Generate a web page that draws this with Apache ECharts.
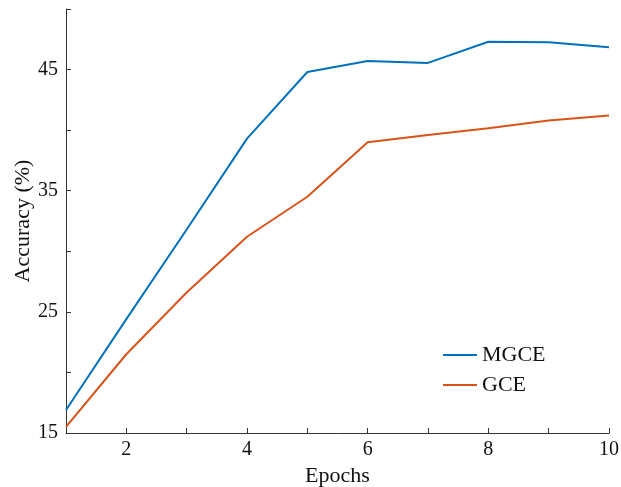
<!DOCTYPE html>
<html>
<head>
<meta charset="utf-8">
<script src="https://cdn.jsdelivr.net/npm/echarts@6/dist/echarts.min.js"></script>
<style>
  html, body { margin: 0; padding: 0; background: #fff; }
  #chart { width: 621px; height: 487px; }
</style>
</head>
<body>
<div id="chart"></div>
<script>
var epochs = [1, 2, 3, 4, 5, 6, 7, 8, 9, 10];
var mgce = [16.9, 24.4, 31.8, 39.3, 44.8, 45.7, 45.55, 47.3, 47.25, 46.85];
var gce = [15.5, 21.5, 26.6, 31.2, 34.5, 39.0, 39.6, 40.15, 40.8, 41.2];

var font = 'Liberation Serif';
var axisColor = '#333';

function pairs(xs, ys) {
    return xs.map(function (x, i) { return [x, ys[i]]; });
}

var myChart = echarts.init(document.getElementById('chart'));
var option = {
    animation: false,
    textStyle: { fontFamily: font },
    grid: { left: 66, right: 12, top: 9, bottom: 54, outerBoundsMode: 'none', containLabel: false },
    legend: {
        orient: 'vertical',
        left: 438,
        top: 339,
        icon: 'rect',
        itemWidth: 34,
        itemHeight: 2,
        itemGap: 8,
        textStyle: { fontFamily: font, fontSize: 22, color: '#111' },
        data: ['MGCE', 'GCE']
    },
    xAxis: {
        type: 'value',
        min: 1, max: 10, interval: 1,
        name: 'Epochs',
        nameLocation: 'middle',
        nameGap: 32,
        nameMoveOverlap: false,
        nameTextStyle: { fontFamily: font, fontSize: 22, color: '#111' },
        axisLine: { lineStyle: { color: axisColor, width: 1 } },
        axisTick: { inside: true, length: 5, lineStyle: { color: axisColor } },
        axisLabel: {
            fontFamily: font, fontSize: 20, color: '#111', margin: 7,
            formatter: function (v) { return v % 2 === 0 ? String(v) : ''; }
        },
        splitLine: { show: false }
    },
    yAxis: {
        type: 'value',
        min: 15, max: 50, interval: 5,
        name: 'Accuracy (%)',
        nameLocation: 'middle',
        nameGap: 32,
        nameMoveOverlap: false,
        nameTextStyle: { fontFamily: font, fontSize: 22, color: '#111' },
        axisLine: { show: true, lineStyle: { color: axisColor, width: 1 } },
        axisTick: { show: true, inside: true, length: 5, lineStyle: { color: axisColor } },
        axisLabel: {
            fontFamily: font, fontSize: 20, color: '#111', margin: 8,
            formatter: function (v) { return (v - 15) % 10 === 0 && v < 50 ? String(v) : ''; }
        },
        splitLine: { show: false }
    },
    series: [
        {
            name: 'MGCE', type: 'line', symbol: 'none',
            lineStyle: { color: '#0072BD', width: 2 },
            itemStyle: { color: '#0072BD' },
            data: pairs(epochs, mgce)
        },
        {
            name: 'GCE', type: 'line', symbol: 'none',
            lineStyle: { color: '#D95319', width: 2 },
            itemStyle: { color: '#D95319' },
            data: pairs(epochs, gce)
        }
    ]
};
myChart.setOption(option);
</script>
</body>
</html>
